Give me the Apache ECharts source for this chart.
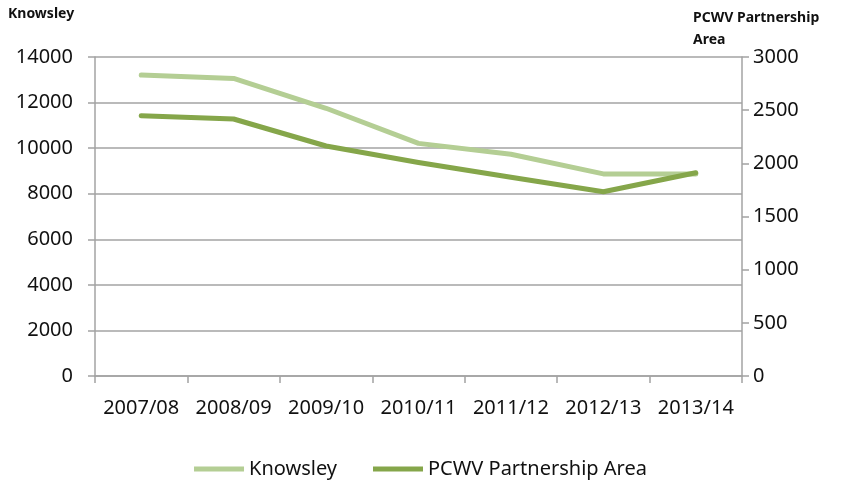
<!DOCTYPE html>
<html>
<head>
<meta charset="utf-8">
<script src="https://cdn.jsdelivr.net/npm/echarts@6/dist/echarts.min.js"></script>
<style>
  html, body { margin: 0; padding: 0; background: #fff; }
  #chart { width: 841px; height: 486px; }
</style>
</head>
<body>
<div id="chart"></div>
<script>
// years on the category axis
var years = ['2007/08', '2008/09', '2009/10', '2010/11', '2011/12', '2012/13', '2013/14'];
// Knowsley, left axis
var knowsley = [13210, 13060, 11750, 10210, 9730, 8870, 8870];
// PCWV Partnership Area, right axis
var pcwv = [2448, 2417, 2163, 2008, 1869, 1733, 1912];

var leftTicks = { min: 0, max: 14000, interval: 2000 };
var rightTicks = { min: 0, max: 3000, interval: 500 };

var font = 'Noto Sans';
var gridColor = '#a3a3a3';

function plain(v) { return String(v); }

var option = {
    animation: false,
    title: [
        { text: 'Knowsley', left: 8, top: 7, padding: 0,
          textStyle: { fontFamily: font, fontSize: 14, fontWeight: 'bold', color: '#111' } },
        { text: 'PCWV Partnership\nArea', left: 693, top: 7, padding: 0,
          textStyle: { fontFamily: font, fontSize: 14, fontWeight: 'bold', color: '#111', lineHeight: 22 } }
    ],
    grid: { left: 95, right: 99, top: 57, bottom: 110 },
    legend: {
        bottom: 2,
        left: 'center',
        itemWidth: 50,
        itemHeight: 5,
        itemGap: 36,
        icon: 'rect',
        textStyle: { fontFamily: font, fontSize: 20, color: '#111' },
        data: ['Knowsley', 'PCWV Partnership Area']
    },
    xAxis: {
        type: 'category',
        data: years,
        boundaryGap: true,
        axisLine: { lineStyle: { color: gridColor, width: 1.5 } },
        axisTick: { show: true, length: 7, lineStyle: { color: gridColor, width: 1.5 } },
        axisLabel: { interval: 0, margin: 22, fontFamily: font, fontSize: 20, color: '#111' },
        splitLine: { show: false }
    },
    yAxis: [
        {
            type: 'value',
            min: leftTicks.min, max: leftTicks.max, interval: leftTicks.interval,
            axisLine: { show: true, lineStyle: { color: gridColor, width: 1.5 } },
            axisTick: { show: true, length: 7, lineStyle: { color: gridColor, width: 1.5 } },
            axisLabel: { margin: 22, fontFamily: font, fontSize: 20, color: '#111', formatter: plain },
            splitLine: { show: true, lineStyle: { color: gridColor, width: 1.5 } }
        },
        {
            type: 'value',
            position: 'right',
            min: rightTicks.min, max: rightTicks.max, interval: rightTicks.interval,
            axisLine: { show: true, lineStyle: { color: gridColor, width: 1.5 } },
            axisTick: { show: true, length: 7, lineStyle: { color: gridColor, width: 1.5 } },
            axisLabel: { margin: 11, fontFamily: font, fontSize: 20, color: '#111', formatter: plain },
            splitLine: { show: false }
        }
    ],
    series: [
        {
            name: 'Knowsley',
            type: 'line',
            yAxisIndex: 0,
            data: knowsley,
            symbol: 'none',
            color: '#b4ce94',
            lineStyle: { width: 5, color: '#b4ce94', cap: 'round', join: 'round' },
            z: 2
        },
        {
            name: 'PCWV Partnership Area',
            type: 'line',
            yAxisIndex: 1,
            data: pcwv,
            symbol: 'none',
            color: '#85a64a',
            lineStyle: { width: 5, color: '#85a64a', cap: 'round', join: 'round' },
            z: 3
        }
    ]
};

var myChart = echarts.init(document.getElementById('chart'));
myChart.setOption(option);
</script>
</body>
</html>
